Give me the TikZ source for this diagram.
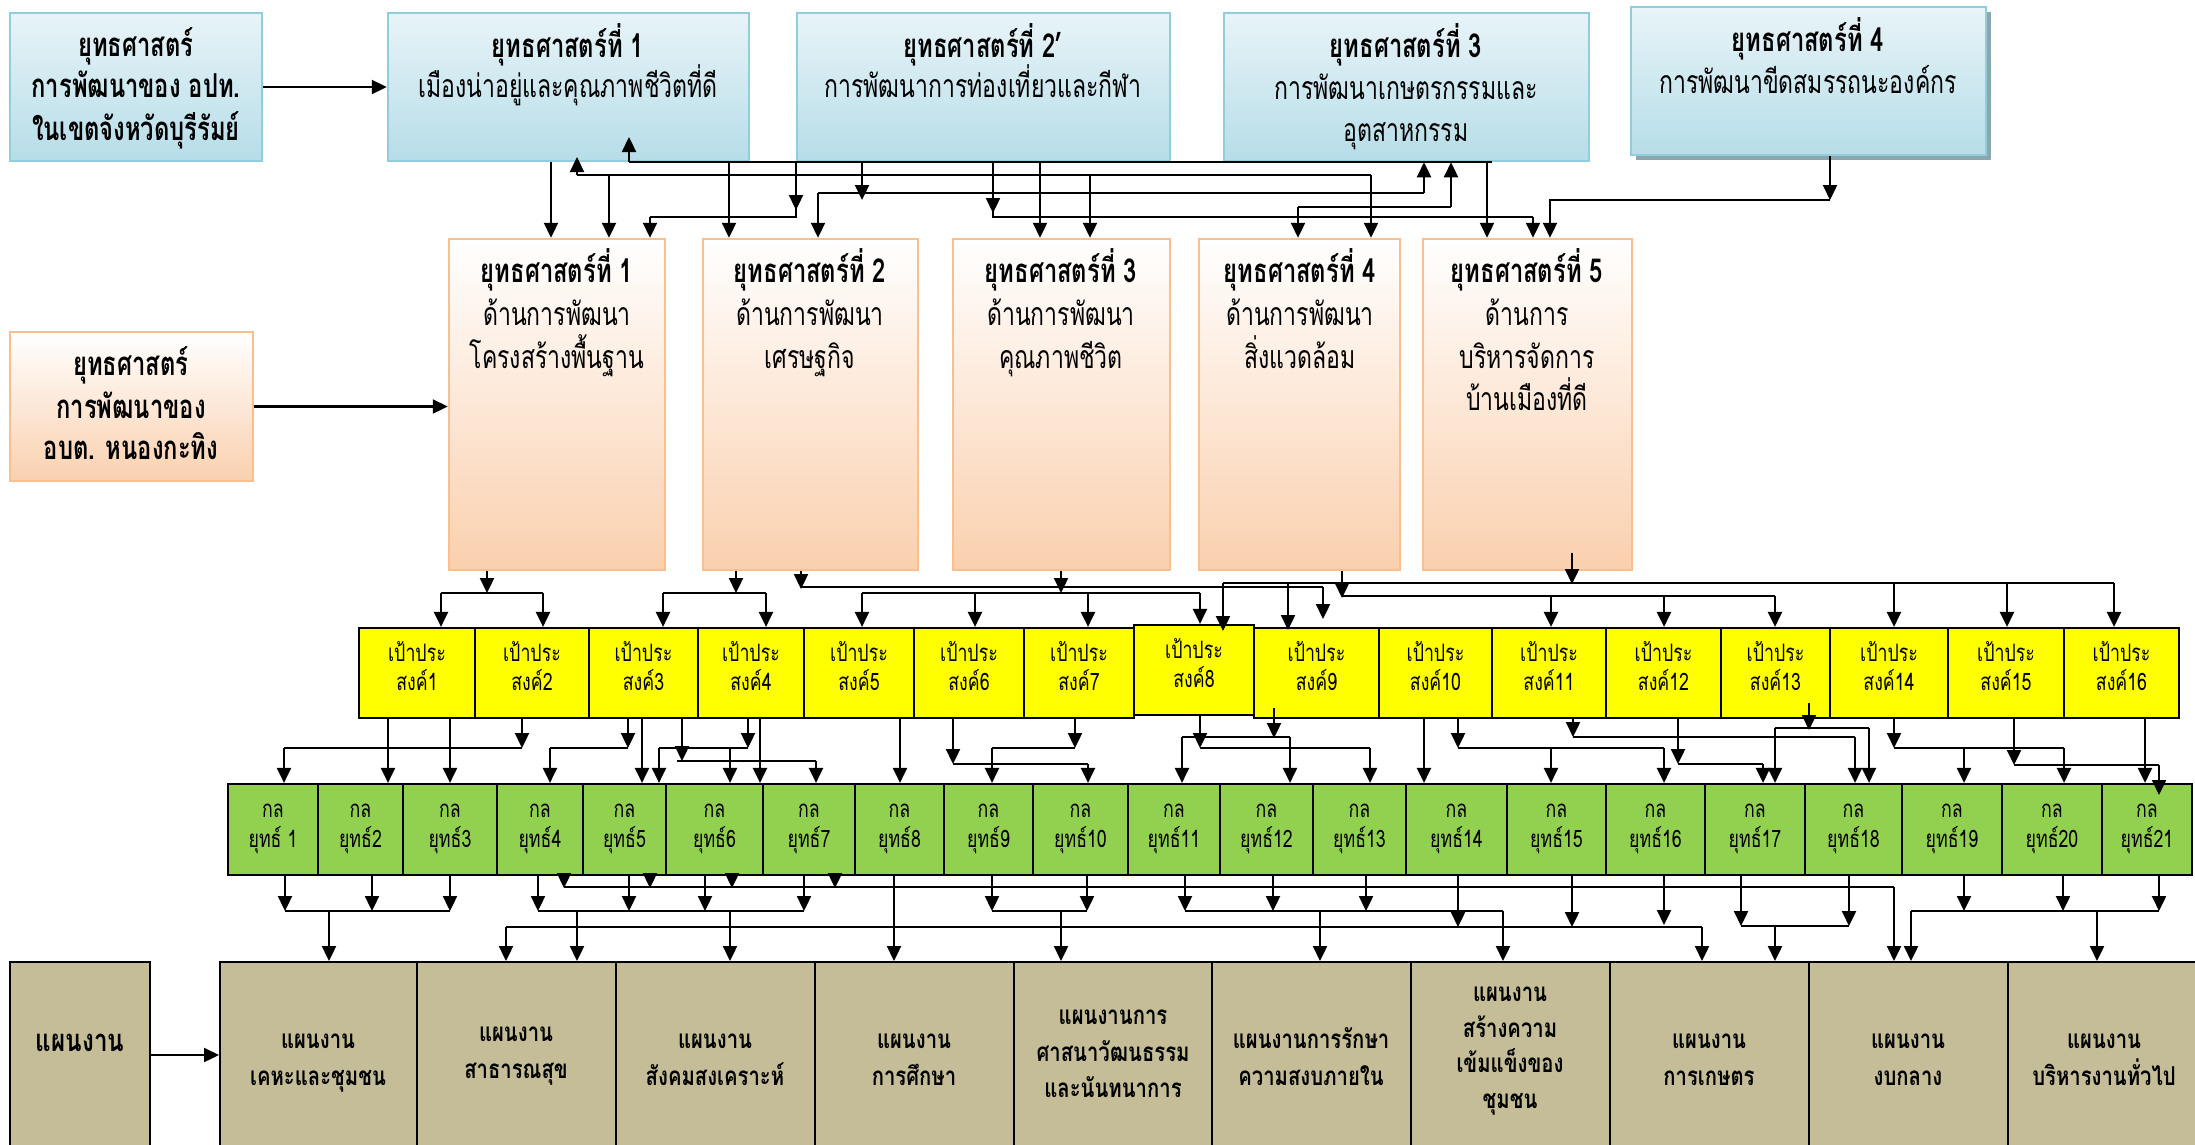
\documentclass[tikz,border=0pt]{standalone}
\usepackage{fontspec}
\usetikzlibrary{arrows.meta,fit}
\newfontfamily\thai[Script=Thai,FakeStretch=0.72]{Loma}
\newfontfamily\thaiS[Script=Thai,FakeStretch=0.74]{Loma}
\newfontfamily\thaiP[Script=Thai,FakeStretch=0.78]{Loma}
\definecolor{bluebd}{HTML}{92CDDC}
\definecolor{bluetop}{HTML}{E8F4F8}
\definecolor{bluebot}{HTML}{B6DDE8}
\definecolor{orbd}{HTML}{F9BF8F}
\definecolor{orbot}{HTML}{FAD0AE}
\definecolor{ylw}{HTML}{FFFF00}
\definecolor{grn}{HTML}{92D050}
\definecolor{tanc}{HTML}{C4BD97}
\definecolor{shadowc}{HTML}{8AA7B0}
\newcommand\myT{\thai\bfseries\fontsize{33}{36}\selectfont}
\newcommand\myS{\thai\fontsize{32}{36}\selectfont}
\newcommand\myY{\thaiS\fontsize{24}{26}\selectfont}
\newcommand\myP{\thaiP\bfseries\fontsize{26}{30}\selectfont}
\newcommand\myPL{\thaiP\bfseries\fontsize{31}{34}\selectfont}
\newcommand\putline[5]{\node[txt,font=#4] (#1) at (#2,#3) {#5};}
\begin{document}
\begin{tikzpicture}[x=1pt,y=-1pt,
  bluebox/.style={draw=bluebd, line width=2.5pt, top color=bluetop, bottom color=bluebot, inner sep=0pt},
  orbox/.style={draw=orbd, line width=2.5pt, top color=white, bottom color=orbot, inner sep=0pt},
  ybox/.style={draw=black, line width=2.2pt, fill=ylw, inner sep=0pt},
  gbox/.style={draw=black, line width=2.2pt, fill=grn, inner sep=0pt},
  tbox/.style={draw=black, line width=2pt, fill=tanc, inner sep=0pt},
  txt/.style={inner sep=0pt, text height=0.75em, text depth=0.25em},
  ar/.style={line width=2.3pt, -{Triangle[length=15pt,width=14pt]}},
  ln/.style={line width=2.3pt},
]
\useasboundingbox (0,0) rectangle (2195,1144);
\fill[white] (0,0) rectangle (2195,1144);
% ---------- top blue boxes
\node[bluebox, fit={(10,13) (262,161)}] (a) {};
\node[bluebox, fit={(388,13) (749,161)}] (t1) {};
\node[bluebox, fit={(797,13) (1170,161)}] (t2) {};
\node[bluebox, fit={(1224,13) (1589,161)}] (t3) {};
\node[fill=shadowc, inner sep=0pt, fit={(1636,12) (1991,160)}] (t4s) {};
\node[bluebox, fit={(1631,7) (1986,155)}] (t4) {};
\putline{at1}{136}{54}{\myT}{ยุทธศาสตร์}
\putline{at2}{136}{95}{\myT}{การพัฒนาของ อปท.}
\putline{at3}{136}{138}{\myT}{ในเขตจังหวัดบุรีรัมย์}
\putline{t1a}{568}{55}{\myT}{ยุทธศาสตร์ที่ 1}
\putline{t1b}{568}{95}{\myS}{เมืองน่าอยู่และคุณภาพชีวิตที่ดี}
\putline{t2a}{983}{55}{\myT}{ยุทธศาสตร์ที่ 2’}
\putline{t2b}{983}{95}{\myS}{การพัฒนาการท่องเที่ยวและกีฬา}
\putline{t3a}{1406}{55}{\myT}{ยุทธศาสตร์ที่ 3}
\putline{t3b}{1406}{97}{\myS}{การพัฒนาเกษตรกรรมและ}
\putline{t3c}{1406}{139}{\myS}{อุตสาหกรรม}
\putline{t4a}{1808}{49}{\myT}{ยุทธศาสตร์ที่ 4}
\putline{t4b}{1808}{91}{\myS}{การพัฒนาขีดสมรรถนะองค์กร}
% ---------- orange boxes
\node[orbox, fit={(10,332) (253,481)}] (b) {};
\node[orbox, fit={(449,239) (665,570)}] (s1) {};
\node[orbox, fit={(703,239) (918,570)}] (s2) {};
\node[orbox, fit={(953,239) (1170,570)}] (s3) {};
\node[orbox, fit={(1199,239) (1400,570)}] (s4) {};
\node[orbox, fit={(1423,239) (1632,570)}] (s5) {};
\putline{b1}{131}{373}{\myT}{ยุทธศาสตร์}
\putline{b2}{131}{416}{\myT}{การพัฒนาของ}
\putline{b3}{131}{457}{\myT}{อบต. หนองกะทิง}
\putline{s1a}{557}{280}{\myT}{ยุทธศาสตร์ที่ 1}
\putline{s1b}{557}{323}{\myS}{ด้านการพัฒนา}
\putline{s1c}{557}{366}{\myS}{โครงสร้างพื้นฐาน}
\putline{s2a}{810}{280}{\myT}{ยุทธศาสตร์ที่ 2}
\putline{s2b}{810}{323}{\myS}{ด้านการพัฒนา}
\putline{s2c}{810}{366}{\myS}{เศรษฐกิจ}
\putline{s3a}{1061}{280}{\myT}{ยุทธศาสตร์ที่ 3}
\putline{s3b}{1061}{323}{\myS}{ด้านการพัฒนา}
\putline{s3c}{1061}{366}{\myS}{คุณภาพชีวิต}
\putline{s4a}{1300}{280}{\myT}{ยุทธศาสตร์ที่ 4}
\putline{s4b}{1300}{323}{\myS}{ด้านการพัฒนา}
\putline{s4c}{1300}{366}{\myS}{สิ่งแวดล้อม}
\putline{s5a}{1527}{280}{\myT}{ยุทธศาสตร์ที่ 5}
\putline{s5b}{1527}{323}{\myS}{ด้านการ}
\putline{s5c}{1527}{366}{\myS}{บริหารจัดการ}
\putline{s5d}{1527}{408}{\myS}{บ้านเมืองที่ดี}
% ---------- yellow boxes
\foreach \i/\xa/\xb in {1/359/475,2/475/589,3/589/698,4/698/804,5/804/914,6/914/1024,7/1024/1134,9/1254/1379,10/1379/1492,11/1492/1606,12/1606/1721,13/1721/1830,14/1830/1948,15/1948/2064,16/2064/2179}{
  \node[ybox, fit={(\xa,628) (\xb,718)}] (y\i) {};
  \node[txt,font=\myY] (ya\i) at (y\i.center |- 0,659) {เป้าประ};
  \node[txt,font=\myY] (yb\i) at (y\i.center |- 0,688) {สงค์\i};
}
\node[ybox, fit={(1134,625) (1254,715)}] (y8) {};
\node[txt,font=\myY] (ya8) at (y8.center |- 0,656) {เป้าประ};
\node[txt,font=\myY] (yb8) at (y8.center |- 0,685) {สงค์8};
% ---------- green boxes
\node[gbox, fit={(228,784) (318,875)}] (g1) {};
\node[txt,font=\myY] (ga1) at (g1.center |- 0,815) {กล};
\node[txt,font=\myY] (gb1) at (g1.center |- 0,845) {ยุทธ์ 1};
\foreach \i/\xa/\xb in {2/318/403,3/403/497,4/497/583,5/583/666,6/666/763,7/763/855,8/855/944,9/944/1033,10/1033/1128,11/1128/1220,12/1220/1313,13/1313/1406,14/1406/1507,15/1507/1606,16/1606/1705,17/1705/1805,18/1805/1902,19/1902/2002,20/2002/2102,21/2102/2192}{
  \node[gbox, fit={(\xa,784) (\xb,875)}] (g\i) {};
  \node[txt,font=\myY] (ga\i) at (g\i.center |- 0,815) {กล};
  \node[txt,font=\myY] (gb\i) at (g\i.center |- 0,845) {ยุทธ์\i};
}
% ---------- tan boxes
\node[tbox, fit={(10,962) (150,1160)}] (p0) {};
\node[tbox, fit={(220,962) (417,1160)}] (p1) {};
\node[tbox, fit={(417,962) (616,1160)}] (p2) {};
\node[tbox, fit={(616,962) (815,1160)}] (p3) {};
\node[tbox, fit={(815,962) (1014,1160)}] (p4) {};
\node[tbox, fit={(1014,962) (1212,1160)}] (p5) {};
\node[tbox, fit={(1212,962) (1411,1160)}] (p6) {};
\node[tbox, fit={(1411,962) (1610,1160)}] (p7) {};
\node[tbox, fit={(1610,962) (1809,1160)}] (p8) {};
\node[tbox, fit={(1809,962) (2008,1160)}] (p9) {};
\node[tbox, fit={(2008,962) (2210,1160)}] (p10) {};
\putline{p0a}{80}{1049}{\myPL}{แผนงาน}
\putline{p1a}{318}{1046}{\myP}{แผนงาน}
\putline{p1b}{318}{1083}{\myP}{เคหะและชุมชน}
\putline{p2a}{516}{1039}{\myP}{แผนงาน}
\putline{p2b}{516}{1076}{\myP}{สาธารณสุข}
\putline{p3a}{715}{1046}{\myP}{แผนงาน}
\putline{p3b}{715}{1083}{\myP}{สังคมสงเคราะห์}
\putline{p4a}{914}{1046}{\myP}{แผนงาน}
\putline{p4b}{914}{1083}{\myP}{การศึกษา}
\putline{p5a}{1113}{1022}{\myP}{แผนงานการ}
\putline{p5b}{1113}{1059}{\myP}{ศาสนาวัฒนธรรม}
\putline{p5c}{1113}{1095}{\myP}{และนันทนาการ}
\putline{p6a}{1311}{1046}{\myP}{แผนงานการรักษา}
\putline{p6b}{1311}{1083}{\myP}{ความสงบภายใน}
\putline{p7a}{1510}{999}{\myP}{แผนงาน}
\putline{p7b}{1510}{1035}{\myP}{สร้างความ}
\putline{p7c}{1510}{1070}{\myP}{เข้มแข็งของ}
\putline{p7d}{1510}{1106}{\myP}{ชุมชน}
\putline{p8a}{1709}{1046}{\myP}{แผนงาน}
\putline{p8b}{1709}{1083}{\myP}{การเกษตร}
\putline{p9a}{1908}{1046}{\myP}{แผนงาน}
\putline{p9b}{1908}{1083}{\myP}{งบกลาง}
\putline{p10a}{2104}{1046}{\myP}{แผนงาน}
\putline{p10b}{2104}{1083}{\myP}{บริหารงานทั่วไป}
% ================= connectors: top
\draw[ar] (a) -- (t1);
\draw[ar] (b) -- (b -| s1.west);
\draw[ar] (t1.south -| 551,0) -- (s1.north -| 551,0);
\draw[ar] (t1.south -| 729,0) -- (s2.north -| 729,0);
\draw[ln] (t3.south -| 1492,0) -- (t1.south -| 629,0);
\draw[ar] (t1.south -| 629,0) -- (629,137);
\draw[ln] (t2.south -| 796,0) -- (796,217) -- (650,217);
\draw[ar] (796,190) -- (796,210);
\draw[ar] (650,217) -- (s1.north -| 650,0);
\draw[ar] (t2.south -| 862,0) -- (862,200);
\draw[ln] (818,193) -- (1424,193);
\draw[ar] (1424,193) -- (t3.south -| 1424,0);
\draw[ar] (818,193) -- (s2.north -| 818,0);
\draw[ln] (577,175) -- (1371,175);
\draw[ar] (577,175) -- (577,157);
\draw[ar] (609,175) -- (s1.north -| 609,0);
\draw[ar] (1090,175) -- (s3.north -| 1090,0);
\draw[ar] (1371,175) -- (s4.north -| 1371,0);
\draw[ln] (1298,207) -- (1451,207);
\draw[ar] (1451,207) -- (t3.south -| 1451,0);
\draw[ar] (1298,207) -- (s4.north -| 1298,0);
\draw[ln] (t2.south -| 993,0) -- (993,217) -- (1533,217);
\draw[ar] (993,195) -- (993,213);
\draw[ar] (1533,217) -- (s5.north -| 1533,0);
\draw[ar] (t2.south -| 1040,0) -- (s3.north -| 1040,0);
\draw[ar] (1487,161) -- (s5.north -| 1487,0);
\draw[ar] (t4.south -| 1830,0) -- (1830,200);
\draw[ar] (1830,200) -- (1550,200) -- (s5.north -| 1550,0);
% ================= orange -> yellow
\draw[ar] (s1.south -| 487,0) -- (487,593);
\draw[ln] (441,593) -- (543,593);
\draw[ar] (441,593) -- (y1.north -| 441,0);
\draw[ar] (543,593) -- (y2.north -| 543,0);
\draw[ar] (s2.south -| 736,0) -- (736,593);
\draw[ln] (663,593) -- (766,593);
\draw[ar] (663,593) -- (y3.north -| 663,0);
\draw[ar] (766,593) -- (y4.north -| 766,0);
\draw[ar] (s2.south -| 801,0) -- (801,589);
\draw[ln] (801,587) -- (1323,587);
\draw[ar] (1323,587) -- (1323,619);
\draw[ar] (s3.south -| 1061,0) -- (1061,593);
\draw[ln] (862,593) -- (1200,593);
\draw[ar] (862,593) -- (y5.north -| 862,0);
\draw[ar] (975,593) -- (y6.north -| 975,0);
\draw[ar] (1088,593) -- (y7.north -| 1088,0);
\draw[ar] (1200,593) -- (y8.north -| 1200,0);
\draw[ar] (s4.south -| 1342,0) -- (1342,598);
\draw[ln] (1342,596) -- (1775,596);
\draw[ar] (1551,596) -- (y11.north -| 1551,0);
\draw[ar] (1664,596) -- (y12.north -| 1664,0);
\draw[ar] (1775,596) -- (y13.north -| 1775,0);
\draw[ar] (1572,553) -- (1572,584);
\draw[ln] (1223,583) -- (2114,583);
\draw[ar] (1223,583) -- (1223,631);
\draw[ar] (1288,583) -- (1288,630);
\draw[ar] (1894,583) -- (y14.north -| 1894,0);
\draw[ar] (2007,583) -- (y15.north -| 2007,0);
\draw[ar] (2114,583) -- (y16.north -| 2114,0);
% ================= yellow -> green
\draw[ar] (y1.south -| 388,0) -- (g2.north -| 388,0);
\draw[ar] (y1.south -| 450,0) -- (g3.north -| 450,0);
\draw[ar] (y2.south -| 522,0) -- (522,748);
\draw[ln] (522,748) -- (284,748);
\draw[ar] (284,748) -- (g1.north -| 284,0);
\draw[ar] (y3.south -| 628,0) -- (628,748);
\draw[ln] (628,748) -- (550,748);
\draw[ar] (550,748) -- (g4.north -| 550,0);
\draw[ar] (y3.south -| 642,0) -- (g5.north -| 642,0);
\draw[ar] (y3.south -| 682,0) -- (682,761);
\draw[ln] (677,761) -- (816,761);
\draw[ar] (816,761) -- (g7.north -| 816,0);
\draw[ar] (y4.south -| 748,0) -- (748,748);
\draw[ln] (748,748) -- (659,748);
\draw[ar] (659,748) -- (g5.north -| 659,0);
\draw[ar] (730,748) -- (g6.north -| 730,0);
\draw[ar] (y4.south -| 760,0) -- (g6.north -| 760,0);
\draw[ar] (y5.south -| 900,0) -- (g8.north -| 900,0);
\draw[ar] (y6.south -| 953,0) -- (953,764);
\draw[ln] (953,764) -- (1088,764);
\draw[ar] (1088,764) -- (g10.north -| 1088,0);
\draw[ar] (y7.south -| 1075,0) -- (1075,748);
\draw[ln] (1075,748) -- (992,748);
\draw[ar] (992,748) -- (g9.north -| 992,0);
\draw[ar] (y8.south -| 1200,0) -- (1200,748);
\draw[ln] (1200,748) -- (1370,748);
\draw[ar] (1370,748) -- (g13.north -| 1370,0);
\draw[ln] (1182,737) -- (1290,737);
\draw[ar] (1182,737) -- (g11.north -| 1182,0);
\draw[ar] (1290,737) -- (g12.north -| 1290,0);
\draw[ar] (1274,708) -- (1274,738);
\draw[ar] (y10.south -| 1424,0) -- (g14.north -| 1424,0);
\draw[ar] (y10.south -| 1458,0) -- (1458,748);
\draw[ln] (1458,748) -- (1664,748);
\draw[ar] (1551,748) -- (g15.north -| 1551,0);
\draw[ar] (1664,748) -- (g16.north -| 1664,0);
\draw[ar] (y11.south -| 1573,0) -- (1573,737);
\draw[ln] (1573,737) -- (1855,737);
\draw[ar] (1855,737) -- (g18.north -| 1855,0);
\draw[ar] (y12.south -| 1678,0) -- (1678,764);
\draw[ln] (1678,764) -- (1763,764);
\draw[ar] (1763,764) -- (g17.north -| 1763,0);
\draw[ar] (1809,703) -- (1809,730);
\draw[ln] (1775,728) -- (1869,728);
\draw[ar] (1775,728) -- (g17.north -| 1775,0);
\draw[ar] (1869,728) -- (g18.north -| 1869,0);
\draw[ar] (y14.south -| 1894,0) -- (1894,748);
\draw[ln] (1894,748) -- (2064,748);
\draw[ar] (1964,748) -- (g19.north -| 1964,0);
\draw[ar] (2064,748) -- (g20.north -| 2064,0);
\draw[ar] (y15.south -| 2014,0) -- (2014,765);
\draw[ln] (2014,765) -- (2159,765);
\draw[ar] (2159,765) -- (2159,795);
\draw[ar] (y16.south -| 2145,0) -- (g21.north -| 2145,0);
% ================= green -> plans
\draw[ar] (g1.south -| 285,0) -- (285,911);
\draw[ar] (g2.south -| 372,0) -- (372,911);
\draw[ar] (g3.south -| 450,0) -- (450,911);
\draw[ln] (285,911) -- (450,911);
\draw[ar] (329,911) -- (p1.north -| 329,0);
\draw[ar] (g4.south -| 538,0) -- (538,911);
\draw[ar] (g5.south -| 629,0) -- (629,911);
\draw[ar] (g6.south -| 705,0) -- (705,911);
\draw[ar] (g7.south -| 804,0) -- (804,911);
\draw[ln] (538,911) -- (804,911);
\draw[ar] (577,911) -- (p2.north -| 577,0);
\draw[ar] (730,911) -- (p3.north -| 730,0);
\draw[ar] (g4.south -| 564,0) -- (564,888);
\draw[ar] (g5.south -| 650,0) -- (650,888);
\draw[ar] (g6.south -| 732,0) -- (732,888);
\draw[ar] (g7.south -| 835,0) -- (835,888);
\draw[ln] (564,887) -- (1894,887);
\draw[ar] (1894,887) -- (p9.north -| 1894,0);
\draw[ln] (506,927) -- (1702,927);
\draw[ar] (506,927) -- (p2.north -| 506,0);
\draw[ar] (1702,927) -- (p8.north -| 1702,0);
\draw[ar] (g14.south -| 1458,0) -- (1458,927);
\draw[ar] (g15.south -| 1572,0) -- (1572,927);
\draw[ar] (g16.south -| 1664,0) -- (1664,925);
\draw[ar] (g8.south -| 894,0) -- (p4.north -| 894,0);
\draw[ar] (g9.south -| 992,0) -- (992,911);
\draw[ar] (g10.south -| 1087,0) -- (1087,911);
\draw[ln] (992,911) -- (1087,911);
\draw[ar] (1061,911) -- (p5.north -| 1061,0);
\draw[ar] (g11.south -| 1185,0) -- (1185,911);
\draw[ar] (g12.south -| 1273,0) -- (1273,911);
\draw[ar] (g13.south -| 1366,0) -- (1366,911);
\draw[ln] (1185,911) -- (1503,911);
\draw[ar] (1320,911) -- (p6.north -| 1320,0);
\draw[ar] (1503,911) -- (p7.north -| 1503,0);
\draw[ar] (g17.south -| 1741,0) -- (1741,926);
\draw[ar] (g18.south -| 1849,0) -- (1849,926);
\draw[ln] (1741,926) -- (1849,926);
\draw[ar] (1775,926) -- (p8.north -| 1775,0);
\draw[ar] (g19.south -| 1964,0) -- (1964,911);
\draw[ar] (g20.south -| 2063,0) -- (2063,911);
\draw[ar] (g21.south -| 2159,0) -- (2159,911);
\draw[ln] (1911,911) -- (2159,911);
\draw[ar] (1911,911) -- (p9.north -| 1911,0);
\draw[ar] (2097,911) -- (p10.north -| 2097,0);
\draw[ar] (p0.east |- 0,1055) -- (p1.west |- 0,1055);
\end{tikzpicture}
\end{document}
